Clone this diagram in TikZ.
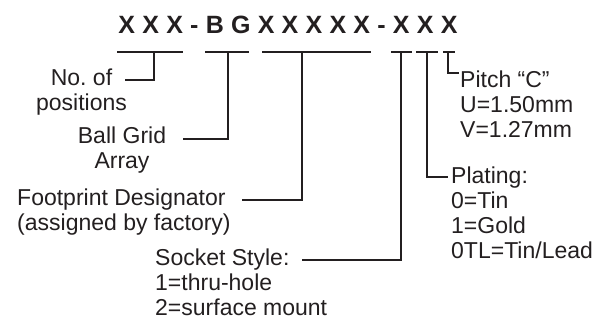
\documentclass[tikz,border=0pt]{standalone}
\usepackage{fontspec}
\setmainfont{Liberation Sans}
\usetikzlibrary{positioning,calc}
\definecolor{pnink}{RGB}{35,31,32}

\begin{document}
\begin{tikzpicture}[x=1pt,y=-1pt,
    txt/.style={font=\fontsize{23}{25}\selectfont, text=pnink, inner sep=0pt, anchor=base},
    lead/.style={draw=pnink, line width=2.4pt}
  ]
  \useasboundingbox (0,0) rectangle (610,322);

  % part number
  \node[txt, font={\fontsize{25}{30}\selectfont\bfseries\addfontfeature{LetterSpace=29}}] (part) at (288,33) {XXX-BGXXXXX-XXX};

  % bars under the fields
  \foreach \l/\m/\r [count=\i] in {117/154/183, 205/228/249, 262/302/371, 391/401/412, 416/427/438, 443/448/455}{
    \draw[lead] (\l,52) -- (\r,52);
    \coordinate (s\i) at (\m,52);
  }

  % labels (base = last line)
  \node[txt, align=center] (npos) at (81.5,110) {No.\ of\\positions};
  \node[txt, align=center] (bga) at (122,168) {Ball Grid\\Array};
  \node[txt, align=left, anchor=base west] (foot) at (17,230) {Footprint Designator\\(assigned by factory)};
  \node[txt, align=left, anchor=base west] (sock) at (155,315) {Socket Style:\\1=thru-hole\\2=surface mount};
  \node[txt, align=left, anchor=base west] (plat) at (451,258) {Plating:\\0=Tin\\1=Gold\\0TL=Tin/Lead};
  \node[txt, align=left, anchor=base west] (pitch) at (460,137) {Pitch \textquotedblleft C\textquotedblright\\U=1.50mm\\V=1.27mm};

  \coordinate (npos-l) at (125,80);
  \coordinate (bga-l) at (183,139);
  \coordinate (foot-l) at (242,200);
  \coordinate (sock-l) at (302,260);
  \coordinate (plat-l) at (448,177);
  \coordinate (pitch-l) at (459,73);

  \draw[lead] (npos-l) -| (s1);
  \draw[lead] (bga-l) -| (s2);
  \draw[lead] (foot-l) -| (s3);
  \draw[lead] (sock-l) -| (s4);
  \draw[lead] (s5) |- (plat-l);
  \draw[lead] (s6) |- (pitch-l);
\end{tikzpicture}
\end{document}
